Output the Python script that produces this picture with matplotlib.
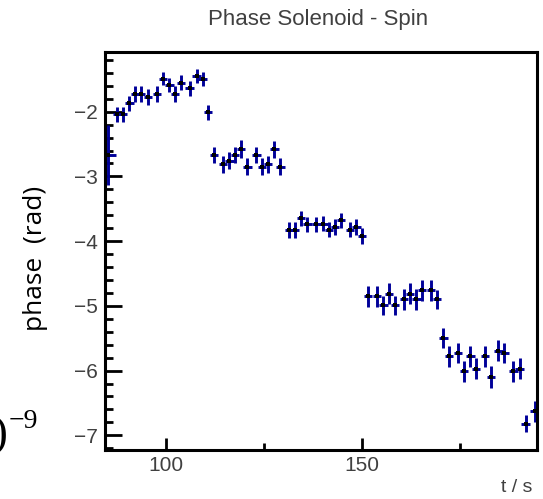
# -*- coding: utf-8 -*-

### 0 ### Imports and settings

import matplotlib
matplotlib.use("Agg")
import matplotlib.pyplot as plt
from matplotlib.ticker import MultipleLocator

plt.rcParams['font.family'] = 'Liberation Sans'

# data
t_s = [85.2, 87.5, 89.0, 90.6, 92.1, 93.6, 95.4, 97.7, 99.2, 100.8, 102.3, 103.8, 106.0, 107.8, 109.3, 110.7,
       112.2, 114.5, 116.1, 117.6, 119.1, 120.7, 123.0, 124.5, 126.0, 127.6, 129.1,
       131.4, 132.8, 134.4, 136.0, 138.3, 140.1, 141.6, 143.1, 144.6, 146.9, 148.5, 150.0,
       151.5, 153.8, 155.4, 156.9, 158.4, 160.7, 162.2, 163.8, 165.3, 167.6, 169.1,
       170.7, 172.2, 174.5, 176.0, 177.6, 179.1, 181.4, 182.9, 184.8, 186.3, 188.6, 190.2, 191.7, 194.0]
phase = [-2.67, -2.04, -2.04, -1.87, -1.73, -1.73, -1.77, -1.73, -1.49, -1.59, -1.73, -1.55, -1.64, -1.45, -1.50, -2.01,
         -2.67, -2.81, -2.76, -2.67, -2.58, -2.85, -2.67, -2.85, -2.81, -2.58, -2.85,
         -3.83, -3.83, -3.65, -3.74, -3.74, -3.73, -3.82, -3.78, -3.68, -3.82, -3.78, -3.92,
         -4.85, -4.85, -4.99, -4.81, -4.99, -4.90, -4.81, -4.90, -4.76, -4.76, -4.90,
         -5.50, -5.78, -5.73, -6.01, -5.78, -5.97, -5.78, -6.10, -5.69, -5.73, -6.01, -5.97, -6.82, -6.63]
t_err = [2.0] + [1.1] * 63
phase_err = [0.46, 0.12, 0.12, 0.12, 0.12, 0.12, 0.12, 0.12, 0.10, 0.11, 0.12, 0.12, 0.12, 0.11, 0.11, 0.12,
             0.12, 0.13, 0.13, 0.13, 0.14, 0.13, 0.13, 0.13, 0.13, 0.13, 0.13,
             0.12, 0.12, 0.12, 0.12, 0.12, 0.12, 0.12, 0.12, 0.12, 0.12, 0.12, 0.13,
             0.16, 0.16, 0.15, 0.16, 0.15, 0.16, 0.16, 0.16, 0.16, 0.16, 0.15,
             0.155, 0.16, 0.16, 0.16, 0.16, 0.16, 0.16, 0.17, 0.16, 0.16, 0.16, 0.16, 0.135, 0.16]

x_ticks = [100, 150]
y_ticks = [-7, -6, -5, -4, -3, -2]


### 1 ### Figure

fig = plt.figure(figsize=(5.43, 4.99), dpi=100)
ax = fig.add_axes([105/543, 1-450/499, 432.3/543, 397.7/499])

ax.errorbar(t_s, phase, xerr=t_err, yerr=phase_err, fmt='none',
            ecolor='#000099', elinewidth=2.1, capsize=0)
ax.plot(t_s, phase, 's', color='black', ms=2.3, mew=0)

ax.set_xlim(84.4, 194.7)
ax.set_ylim(-7.227, -1.082)

# ROOT-like axes
for sp in ax.spines.values():
    sp.set_linewidth(2.2)
ax.set_xticks(x_ticks)
ax.set_yticks(y_ticks)
ax.xaxis.set_minor_locator(MultipleLocator(25))
ax.yaxis.set_minor_locator(MultipleLocator(0.2))
ax.tick_params(axis='both', which='both', direction='in', top=False, right=False,
               width=2.0, colors='black', labelcolor='#404040', labelsize=15)
ax.tick_params(axis='x', which='major', length=9, pad=4)
ax.tick_params(axis='x', which='minor', length=5)
ax.tick_params(axis='y', which='major', length=12, pad=5)
ax.tick_params(axis='y', which='minor', length=5.5)

# texts
fig.text(318/543, 1-19/499, 'Phase Solenoid - Spin', ha='center', va='center',
         fontsize=16, color='#404040')
fig.text(532/543, 1-488/499, 't / s', ha='right', va='center', fontsize=14, color='#404040')
fig.text(36/543, 1-258/499, 'phase  (rad)', rotation=90, ha='center', va='center',
         fontsize=19, family='Open Sans', color='black')

# leftover of a neighbouring label, cut by the left edge
fig.text(-7/543, 1-436/499, ')', ha='left', va='center', fontsize=32,
         family='Liberation Serif', color='black')
fig.text(9/543, 1-421/499, '\u22129', ha='left', va='center', fontsize=20,
         family='Liberation Serif', color='black')

plt.savefig('out.png', dpi=100)
